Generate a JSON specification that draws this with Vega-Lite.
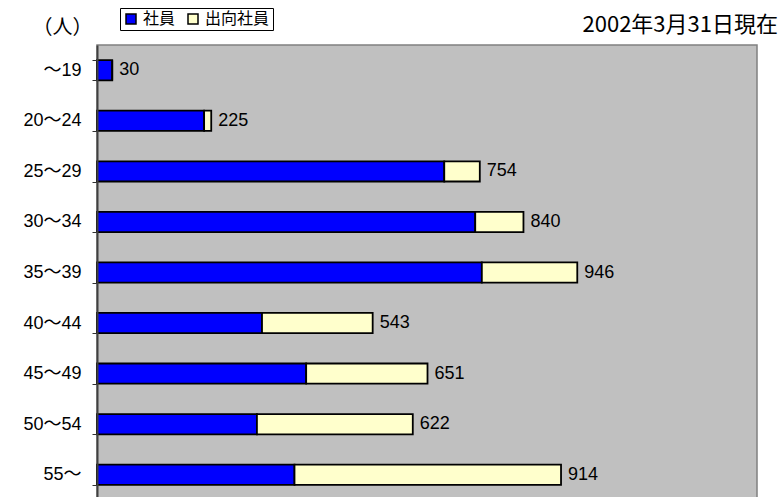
{
  "$schema": "https://vega.github.io/schema/vega-lite/v6.json",
  "autosize": "none",
  "width": 660,
  "height": 455,
  "padding": {"left": 97, "top": 45, "right": 23, "bottom": 0},
  "background": "white",
  "title": {
    "text": "2002年3月31日現在",
    "anchor": "end",
    "orient": "top",
    "dx": 21,
    "dy": 29,
    "offset": 0,
    "font": "Noto Sans CJK JP",
    "fontSize": 22,
    "fontWeight": "normal",
    "color": "#000000"
  },
  "config": {
    "view": {"fill": "#C0C0C0", "stroke": "#808080", "strokeWidth": 1.5},
    "font": "Liberation Sans, Noto Sans CJK JP"
  },
  "data": {
    "values": [
      {"age": "～19", "type": "社員", "count": 30},
      {"age": "～19", "type": "出向社員", "count": 0},
      {"age": "20～24", "type": "社員", "count": 211},
      {"age": "20～24", "type": "出向社員", "count": 14},
      {"age": "25～29", "type": "社員", "count": 684},
      {"age": "25～29", "type": "出向社員", "count": 70},
      {"age": "30～34", "type": "社員", "count": 745},
      {"age": "30～34", "type": "出向社員", "count": 95},
      {"age": "35～39", "type": "社員", "count": 758},
      {"age": "35～39", "type": "出向社員", "count": 188},
      {"age": "40～44", "type": "社員", "count": 325},
      {"age": "40～44", "type": "出向社員", "count": 218},
      {"age": "45～49", "type": "社員", "count": 412},
      {"age": "45～49", "type": "出向社員", "count": 239},
      {"age": "50～54", "type": "社員", "count": 315},
      {"age": "50～54", "type": "出向社員", "count": 307},
      {"age": "55～", "type": "社員", "count": 389},
      {"age": "55～", "type": "出向社員", "count": 525}
    ]
  },
  "encoding": {
    "y": {
      "field": "age",
      "type": "nominal",
      "sort": null,
      "scale": {"paddingInner": 0.6, "paddingOuter": 0.3},
      "axis": {
        "title": "（人）",
        "titleAngle": 0,
        "titleAlign": "center",
        "titleBaseline": "middle",
        "titleX": -35,
        "titleY": -18,
        "titleFont": "Noto Sans CJK JP",
        "titleFontSize": 20,
        "titleFontWeight": "normal",
        "titleColor": "#000000",
        "labelFont": "Liberation Sans, Noto Sans CJK JP",
        "labelFontSize": 18,
        "labelColor": "#000000",
        "labelPadding": 11,
        "ticks": true,
        "tickBand": "extent",
        "tickSize": 5,
        "tickWidth": 1,
        "tickColor": "#303030",
        "domainColor": "#404040",
        "domainWidth": 2,
        "zindex": 1
      }
    }
  },
  "layer": [
    {
      "mark": {"type": "bar", "stroke": "#000000", "strokeWidth": 1.8},
      "encoding": {
        "x": {
          "field": "count",
          "type": "quantitative",
          "stack": "zero",
          "scale": {"domain": [0, 1300], "nice": false},
          "axis": null
        },
        "color": {
          "field": "type",
          "type": "nominal",
          "scale": {"domain": ["社員", "出向社員"], "range": ["#0000FF", "#FFFFCC"]},
          "legend": {
            "title": null,
            "orient": "none",
            "legendX": 23,
            "legendY": -37,
            "direction": "horizontal",
            "padding": 3,
            "strokeColor": "#000000",
            "fillColor": "#FFFFFF",
            "labelFont": "Noto Sans CJK JP",
            "labelFontSize": 16,
            "labelColor": "#000000",
            "symbolType": "square",
            "symbolSize": 100,
            "symbolStrokeColor": "#000000",
            "symbolStrokeWidth": 1.5,
            "symbolOpacity": 1,
            "columnPadding": 9,
            "labelOffset": 4
          }
        },
        "order": {"field": "type", "sort": "descending"}
      }
    },
    {
      "transform": [
        {"aggregate": [{"op": "sum", "field": "count", "as": "total"}], "groupby": ["age"]}
      ],
      "mark": {"type": "text", "align": "left", "baseline": "middle", "dx": 7, "fontSize": 18, "font": "Liberation Sans", "color": "#000000"},
      "encoding": {
        "x": {"field": "total", "type": "quantitative"},
        "text": {"field": "total", "type": "quantitative"}
      }
    }
  ]
}
